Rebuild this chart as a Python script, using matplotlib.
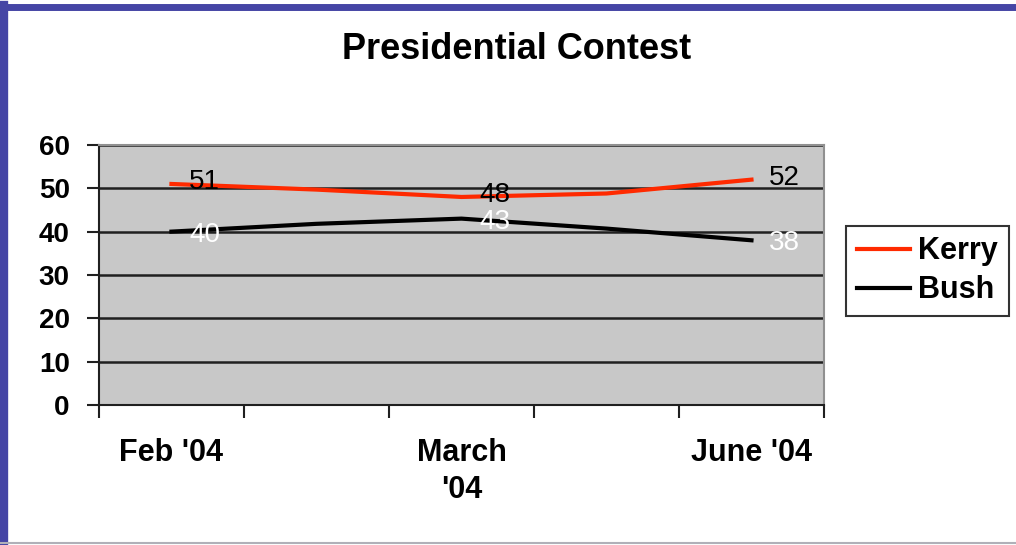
import numpy as np
import matplotlib.pyplot as plt
from matplotlib.lines import Line2D

plt.rcParams['font.family'] = ['Liberation Sans', 'DejaVu Sans']

# 5 category slots, only every other one gets a tick label
months = ["Feb '04", "", "March\n'04", "", "June '04"]
kerry = [51, 49.7, 48, 48.8, 52]
bush = [40, 41.8, 43, 40.7, 38]
labelled = [0, 2, 4]  # points that carry a value label

fig = plt.figure(figsize=(10.16, 5.45), dpi=100)
ax = fig.add_axes([0.0974, 0.257, 0.7136, 0.477])
ax.set_facecolor('#c8c8c8')

x = np.arange(len(months))
ax.plot(x, kerry, color='#ff2a00', lw=3, label='Kerry', zorder=3)
ax.plot(x, bush, color='black', lw=3, label='Bush', zorder=3)

for i in labelled:
    ax.annotate(f"{kerry[i]:.0f}", (x[i], kerry[i]), xytext=(33, 2), textcoords='offset pixels',
                ha='center', va='center', fontsize=20, color='black', zorder=4)
    ax.annotate(f"{bush[i]:.0f}", (x[i], bush[i]), xytext=(33, -3), textcoords='offset pixels',
                ha='center', va='center', fontsize=20, color='white', zorder=4)

ax.set_xlim(-0.5, len(months) - 0.5)
ax.set_ylim(0, 60)
ax.set_yticks(range(0, 61, 10))
ax.yaxis.grid(True, color='#202020', lw=1.8)
ax.set_axisbelow(True)

ax.set_xticks(np.arange(-0.5, len(months), 1.0))
ax.set_xticklabels([])
ax.set_xticks(x[labelled], minor=True)
ax.set_xticklabels([months[i] for i in labelled], minor=True)
ax.tick_params(axis='x', which='minor', length=0, pad=24, labelsize=22)
ax.tick_params(axis='x', which='major', length=9, width=1.5, color='#202020')
ax.tick_params(axis='y', length=9, width=1.5, color='#202020', labelsize=20, pad=12)
for lab in ax.get_xticklabels(minor=True) + ax.get_yticklabels():
    lab.set_fontweight('bold')
for lab in ax.get_xticklabels(minor=True):
    lab.set_linespacing(1.3)

for side in ['left', 'bottom']:
    ax.spines[side].set_color('#202020')
    ax.spines[side].set_linewidth(1.5)
for side in ['top', 'right']:
    ax.spines[side].set_color('#909090')
    ax.spines[side].set_linewidth(1.5)

fig.text(0.508, 0.91, 'Presidential Contest', ha='center', va='center',
         fontsize=26, fontweight='bold')

leg = fig.legend(loc='center left', bbox_to_anchor=(0.833, 0.503), frameon=True,
                 fancybox=False, edgecolor='black', prop={'size': 22, 'weight': 'bold'},
                 handlelength=1.75, handletextpad=0.25, borderpad=0.35, labelspacing=0.3,
                 borderaxespad=0)
leg.get_frame().set_linewidth(1.5)

# window frame around the chart
fig.add_artist(Line2D([0, 1], [0.988, 0.988], color='#4545a5', lw=5, transform=fig.transFigure))
fig.add_artist(Line2D([0.004, 0.004], [0, 0.99], color='#4545a5', lw=6, transform=fig.transFigure))
fig.add_artist(Line2D([0, 1], [0.003, 0.003], color='#b0b0b8', lw=1.5, transform=fig.transFigure))

fig.savefig('out.png', dpi=100)
